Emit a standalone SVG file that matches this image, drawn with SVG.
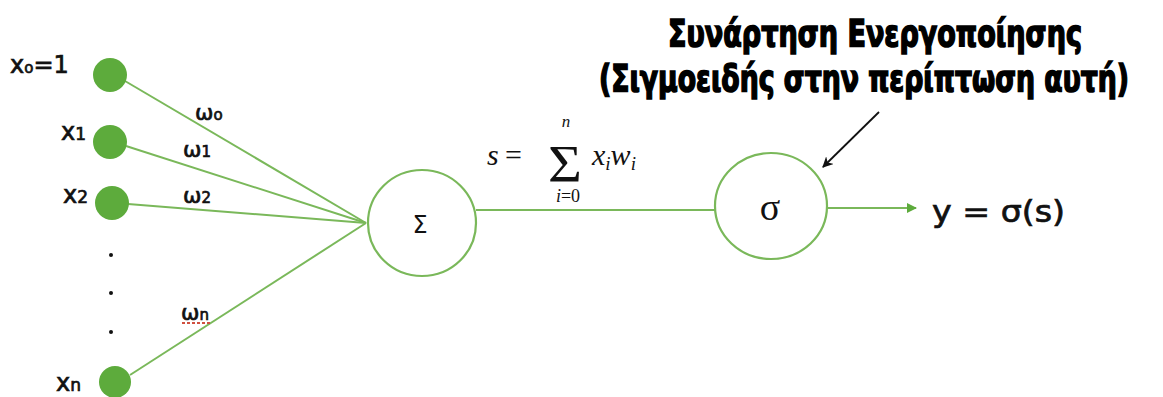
<svg xmlns="http://www.w3.org/2000/svg" width="1163" height="397" viewBox="0 0 1163 397">
<style>
.in{fill:#5dab3c}
.edge{stroke:#7ab85a;stroke-width:2;fill:none}
.unit{fill:#fff;stroke:#7ab85a;stroke-width:2.2}
.hand{font-family:"DejaVu Sans",sans-serif;fill:#111;stroke:#111;stroke-width:0.7}
.math{font-family:"Liberation Serif",serif;fill:#111}
.title{font-family:"DejaVu Sans Condensed","DejaVu Sans",sans-serif;font-weight:bold;fill:#000;stroke:#000;stroke-width:1.6}
</style>
<defs>
<marker id="ga" viewBox="0 0 10 10" refX="9" refY="5" markerWidth="5" markerHeight="5" orient="auto"><path d="M0,0L10,5L0,10z" fill="#5dab3c"/></marker>
<marker id="ba" viewBox="0 0 10 10" refX="9" refY="5" markerWidth="6" markerHeight="6" orient="auto"><path d="M0,0L10,5L0,10L3,5z" fill="#111"/></marker>
</defs>
<rect width="1163" height="397" fill="#fff"/>
<g id="connectors">
<line class="edge" x1="125" y1="81" x2="366" y2="223"/>
<line class="edge" x1="126" y1="146" x2="366" y2="223"/>
<line class="edge" x1="128" y1="204" x2="366" y2="223"/>
<line class="edge" x1="130" y1="375" x2="366" y2="223"/>
<line class="edge" x1="476" y1="210" x2="715" y2="210"/>
<line class="edge" x1="827" y1="208" x2="916" y2="208" marker-end="url(#ga)"/>
<line x1="879" y1="112" x2="823" y2="167" stroke="#111" stroke-width="1.8" marker-end="url(#ba)"/>
</g>
<g id="x0"><circle class="in" cx="110" cy="75" r="17"/><text class="hand" x="10" y="73" font-size="24">x<tspan font-size="15">o</tspan>=1</text></g>
<g id="x1"><circle class="in" cx="110" cy="142" r="17"/><text class="hand" x="61" y="140" font-size="24">x<tspan font-size="17">1</tspan></text></g>
<g id="x2"><circle class="in" cx="112" cy="203" r="17"/><text class="hand" x="63" y="203" font-size="24">x<tspan font-size="17">2</tspan></text></g>
<g id="xn"><circle class="in" cx="115" cy="382" r="16"/><text class="hand" x="56" y="391" font-size="24">x<tspan font-size="17">n</tspan></text></g>
<g id="dots" fill="#111"><circle cx="111" cy="255" r="2"/><circle cx="111" cy="293" r="2"/><circle cx="111" cy="332" r="2"/></g>
<g id="weights">
<text class="hand" x="195" y="120" font-size="22">ω<tspan font-size="15">o</tspan></text>
<text class="hand" x="183" y="157" font-size="22">ω<tspan font-size="15">1</tspan></text>
<text class="hand" x="183" y="203" font-size="22">ω<tspan font-size="15">2</tspan></text>
<text class="hand" x="181" y="320" font-size="22">ω<tspan font-size="15">n</tspan></text>
<line x1="182" y1="323" x2="212" y2="323" stroke="#d05040" stroke-width="2" stroke-dasharray="3,2"/>
</g>
<g id="sum"><ellipse class="unit" cx="422" cy="223" rx="54" ry="53"/><text x="420" y="233" font-family="DejaVu Sans,sans-serif" font-size="24" text-anchor="middle" fill="#111">Σ</text></g>
<g id="formula">
<text class="math" x="487" y="165" font-size="30" font-style="italic">s</text>
<text class="math" x="505" y="165" font-size="30">=</text>
<text class="math" x="565" y="182" font-size="52" text-anchor="middle" transform="translate(565 0) scale(1.12 1) translate(-565 0)">Σ</text>
<text class="math" x="566" y="127" font-size="17" font-style="italic" text-anchor="middle">n</text>
<text class="math" x="568" y="202" font-size="18" text-anchor="middle"><tspan font-style="italic">i</tspan>=0</text>
<text class="math" x="592" y="165" font-size="30" font-style="italic">x<tspan font-size="19" dy="5">i</tspan><tspan dy="-5">w</tspan><tspan font-size="19" dy="5">i</tspan></text>
</g>
<g id="sigma"><ellipse class="unit" cx="771" cy="206" rx="56" ry="53"/><text class="math" x="770" y="220" font-size="38" text-anchor="middle">σ</text></g>
<g id="output"><text class="hand" x="932" y="222" font-size="30" textLength="133" lengthAdjust="spacingAndGlyphs">y = σ(s)</text></g>
<g id="title">
<text class="title" x="875" y="46" font-size="38" text-anchor="middle" textLength="414" lengthAdjust="spacingAndGlyphs">Συνάρτηση Ενεργοποίησης</text>
<text class="title" x="864" y="91" font-size="38" text-anchor="middle" textLength="530" lengthAdjust="spacingAndGlyphs">(Σιγμοειδής στην περίπτωση αυτή)</text>
</g>
</svg>
